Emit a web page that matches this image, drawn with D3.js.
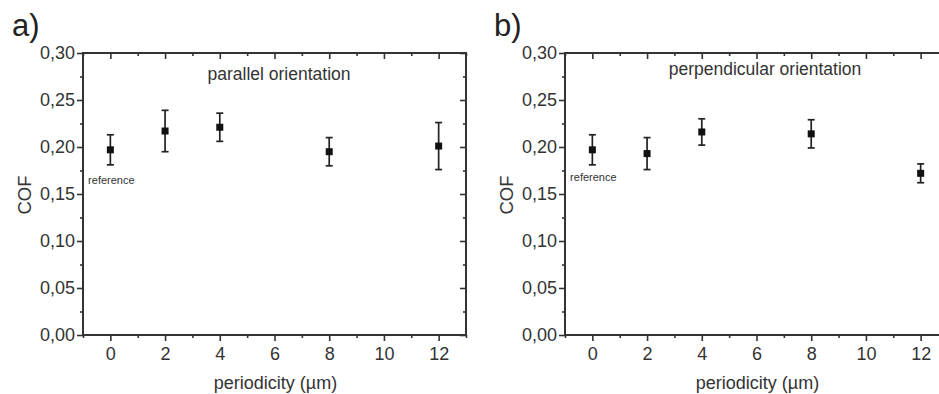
<!DOCTYPE html>
<html>
<head>
<meta charset="utf-8">
<script src="https://cdn.jsdelivr.net/npm/d3@7"></script>
<style>
  body { margin: 0; background: #fff; }
  svg { display: block; }
  text { font-family: "Liberation Sans", Arial, sans-serif; fill: #333; }
  .tick line { stroke: #333; stroke-width: 1.6; }
</style>
</head>
<body>
<svg width="939" height="394"></svg>
<script>
// data
var periodicity = [0, 2, 4, 8, 12];
var cofParallel = [0.197, 0.217, 0.221, 0.195, 0.201];
var errParallel = [0.016, 0.022, 0.015, 0.015, 0.025];
var cofPerp = [0.197, 0.193, 0.216, 0.214, 0.172];
var errPerp = [0.016, 0.017, 0.014, 0.015, 0.010];

var xTicks = [0, 2, 4, 6, 8, 10, 12];
var xMinor = [-1, 1, 3, 5, 7, 9, 11, 13];
var yTicks = [0, 0.05, 0.10, 0.15, 0.20, 0.25, 0.30];
var yMinor = [0.025, 0.075, 0.125, 0.175, 0.225, 0.275];

var panels = [
    {letter: 'a)', title: 'parallel orientation', left: 83, cof: cofParallel, err: errParallel, titleX: 279, titleY: 80, refY: 184},
    {letter: 'b)', title: 'perpendicular orientation', left: 565, cof: cofPerp, err: errPerp, titleX: 765, titleY: 75, refY: 181}
];

var W = 383, H = 282, plotTop = 53;
var svg = d3.select('svg');
var fmt = function(d){ return d3.format('.2f')(d).replace('.', ','); };

panels.forEach(function(p){

    var g = svg.append('g').attr('transform', 'translate(' + p.left + ',' + plotTop + ')');

    var scaleX = d3.scaleLinear().domain([-1, 13]).range([0, W]);
    var scaleY = d3.scaleLinear().domain([0, 0.30]).range([H, 0]);

    // bottom / left axes, ticks outward
    g.append('g').attr('transform', 'translate(0,' + H + ')')
        .call(d3.axisBottom(scaleX).tickValues(xTicks).tickSize(6).tickPadding(6).tickFormat(d3.format('d')))
        .call(function(a){ a.select('.domain').remove(); a.selectAll('text').style('font-size', '18px'); });
    g.append('g').attr('transform', 'translate(0,' + H + ')')
        .call(d3.axisBottom(scaleX).tickValues(xMinor).tickSize(3).tickFormat(''))
        .call(function(a){ a.select('.domain').remove(); });

    g.append('g')
        .call(d3.axisLeft(scaleY).tickValues(yTicks).tickSize(6).tickPadding(2).tickFormat(fmt))
        .call(function(a){ a.select('.domain').remove(); a.selectAll('text').style('font-size', '18px'); });
    g.append('g')
        .call(d3.axisLeft(scaleY).tickValues(yMinor).tickSize(3).tickFormat(''))
        .call(function(a){ a.select('.domain').remove(); });

    // mirrored top / right ticks, pointing inward
    g.append('g')
        .call(d3.axisTop(scaleX).tickValues(xTicks).tickSize(-6).tickFormat(''))
        .call(function(a){ a.select('.domain').remove(); });
    g.append('g')
        .call(d3.axisTop(scaleX).tickValues(xMinor).tickSize(-3).tickFormat(''))
        .call(function(a){ a.select('.domain').remove(); });
    g.append('g').attr('transform', 'translate(' + W + ',0)')
        .call(d3.axisRight(scaleY).tickValues(yTicks).tickSize(-6).tickFormat(''))
        .call(function(a){ a.select('.domain').remove(); });
    g.append('g').attr('transform', 'translate(' + W + ',0)')
        .call(d3.axisRight(scaleY).tickValues(yMinor).tickSize(-3).tickFormat(''))
        .call(function(a){ a.select('.domain').remove(); });

    g.append('rect')
        .attr('width', W).attr('height', H)
        .attr('fill', 'none').attr('stroke', '#333').attr('stroke-width', 2);

    var pts = periodicity.map(function(x, i){ return {x: x, y: p.cof[i], e: p.err[i]}; });

    var bars = g.selectAll('.err').data(pts).enter().append('g').attr('class', 'err')
        .attr('stroke', '#222').attr('stroke-width', 1.7);
    bars.append('line')
        .attr('x1', function(d){ return scaleX(d.x); })
        .attr('x2', function(d){ return scaleX(d.x); })
        .attr('y1', function(d){ return scaleY(d.y + d.e); })
        .attr('y2', function(d){ return scaleY(d.y - d.e); });
    bars.append('line')
        .attr('x1', function(d){ return scaleX(d.x) - 3.5; })
        .attr('x2', function(d){ return scaleX(d.x) + 3.5; })
        .attr('y1', function(d){ return scaleY(d.y + d.e); })
        .attr('y2', function(d){ return scaleY(d.y + d.e); });
    bars.append('line')
        .attr('x1', function(d){ return scaleX(d.x) - 3.5; })
        .attr('x2', function(d){ return scaleX(d.x) + 3.5; })
        .attr('y1', function(d){ return scaleY(d.y - d.e); })
        .attr('y2', function(d){ return scaleY(d.y - d.e); });

    g.selectAll('.pt').data(pts).enter().append('rect').attr('class', 'pt')
        .attr('x', function(d){ return scaleX(d.x) - 3.5; })
        .attr('y', function(d){ return scaleY(d.y) - 3.5; })
        .attr('width', 7).attr('height', 7)
        .attr('fill', '#111');

    // labels
    svg.append('text').attr('x', p.left - 71).attr('y', 36)
        .style('font-size', '31px').style('fill', '#222').text(p.letter);
    svg.append('text')
        .attr('transform', 'translate(' + (p.left - 52) + ',' + (plotTop + H / 2 + 1) + ') rotate(-90)')
        .attr('text-anchor', 'middle').style('font-size', '18.5px').text('COF');
    svg.append('text').attr('x', p.left + W / 2 + 1).attr('y', 389)
        .attr('text-anchor', 'middle').style('font-size', '18px').text('periodicity (µm)');
    svg.append('text').attr('x', p.titleX).attr('y', p.titleY)
        .attr('text-anchor', 'middle').style('font-size', '17.5px').text(p.title);
    svg.append('text').attr('x', p.left + scaleX(0) + 1).attr('y', p.refY)
        .attr('text-anchor', 'middle').style('font-size', '11px').text('reference');
});
</script>
</body>
</html>
